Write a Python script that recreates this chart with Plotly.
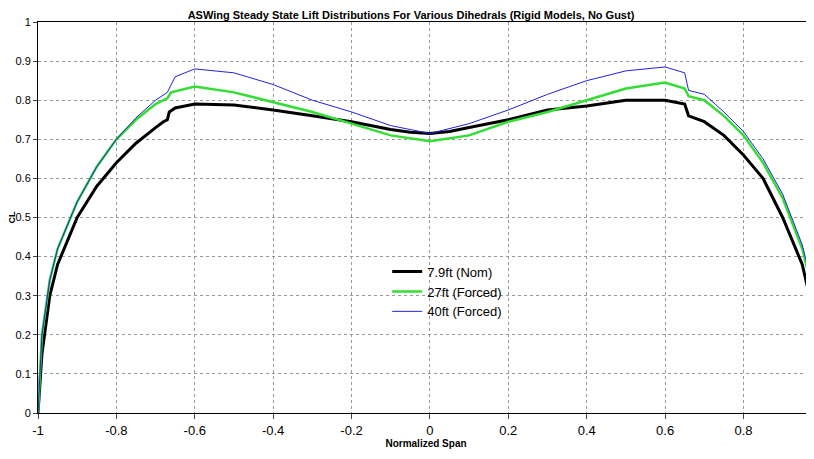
import plotly.graph_objects as go

# Normalized span stations and CL values
x_nom = [-1, -0.99, -0.97, -0.95, -0.9, -0.85, -0.8, -0.75, -0.7, -0.68, -0.67, -0.665, -0.65, -0.6,
         -0.5, -0.4, -0.3, -0.2, -0.1, -0.05, 0, 0.05, 0.1, 0.2, 0.3, 0.4, 0.5, 0.6, 0.65, 0.66,
         0.7, 0.75, 0.8, 0.85, 0.9, 0.95, 0.98]
cl_nom = [0.0, 0.15, 0.3, 0.38, 0.5, 0.58, 0.64, 0.69, 0.73, 0.745, 0.75, 0.77, 0.78, 0.79,
          0.788, 0.775, 0.76, 0.745, 0.725, 0.718, 0.715, 0.72, 0.73, 0.75, 0.775, 0.785, 0.8, 0.8, 0.79, 0.76,
          0.745, 0.71, 0.66, 0.6, 0.5, 0.38, 0.25]

x_27 = [-1, -0.99, -0.97, -0.95, -0.9, -0.85, -0.8, -0.75, -0.7, -0.67, -0.66, -0.6, -0.5, -0.4,
        -0.3, -0.2, -0.1, 0, 0.1, 0.2, 0.3, 0.4, 0.5, 0.6, 0.65, 0.66, 0.7, 0.75, 0.8, 0.85, 0.9, 0.95, 0.98]
cl_27 = [0.0, 0.2, 0.34, 0.42, 0.54, 0.63, 0.7, 0.75, 0.79, 0.805, 0.82, 0.835, 0.82, 0.795,
         0.77, 0.74, 0.71, 0.695, 0.71, 0.745, 0.77, 0.8, 0.83, 0.845, 0.83, 0.81, 0.8, 0.76, 0.71, 0.64, 0.55, 0.42, 0.3]

x_40 = [-1, -0.99, -0.97, -0.95, -0.9, -0.85, -0.8, -0.75, -0.7, -0.67, -0.65, -0.6, -0.5, -0.4,
        -0.3, -0.2, -0.1, 0, 0.1, 0.2, 0.3, 0.4, 0.5, 0.6, 0.65, 0.66, 0.7, 0.75, 0.8, 0.85, 0.9, 0.95, 0.98]
cl_40 = [0.0, 0.2, 0.34, 0.42, 0.54, 0.63, 0.7, 0.755, 0.8, 0.82, 0.86, 0.88, 0.87, 0.84,
         0.8, 0.77, 0.735, 0.715, 0.74, 0.775, 0.815, 0.85, 0.875, 0.885, 0.87, 0.825, 0.815, 0.77, 0.72, 0.65, 0.56, 0.43, 0.31]

fig = go.Figure()
fig.add_trace(go.Scatter(x=x_nom, y=cl_nom, mode="lines", name="7.9ft (Nom)",
                         line=dict(color="black", width=3)))
fig.add_trace(go.Scatter(x=x_27, y=cl_27, mode="lines", name="27ft (Forced)",
                         line=dict(color="#33dd33", width=2.5)))
fig.add_trace(go.Scatter(x=x_40, y=cl_40, mode="lines", name="40ft (Forced)",
                         line=dict(color="#2222dd", width=1)))

# page body has an 8px margin, so the figure is offset by that amount
fig.update_layout(
    width=806, height=443,
    margin=dict(l=30, r=0, t=14, b=38, autoexpand=False),
    paper_bgcolor="white", plot_bgcolor="white",
    font=dict(family="Liberation Sans, Arial", size=13, color="black"),
    title=dict(text="<b>ASWing Steady State Lift Distributions For Various Dihedrals (Rigid Models, No Gust)</b>",
               x=0.5, xanchor="center", y=0.993, yanchor="top", font=dict(size=11)),
    legend=dict(x=0.45, y=0.4, xanchor="left", yanchor="top", bgcolor="rgba(0,0,0,0)",
                font=dict(size=13)),
)
fig.add_annotation(text="<b>CL</b>", xref="paper", yref="paper", x=0, y=0.5, xshift=-27,
                   xanchor="center", showarrow=False, textangle=-90, font=dict(size=9))
fig.update_xaxes(range=[-1, 0.98], tickvals=[-1, -0.8, -0.6, -0.4, -0.2, 0, 0.2, 0.4, 0.6, 0.8],
                 ticktext=["-1", "-0.8", "-0.6", "-0.4", "-0.2", "0", "0.2", "0.4", "0.6", "0.8"],
                 showgrid=True, gridcolor="#999", griddash="dot", zeroline=False, automargin=False,
                 showline=True, linecolor="black", mirror=True, ticks="outside",
                 title=dict(text="<b>Normalized Span</b>", font=dict(size=10), standoff=2))
fig.update_yaxes(range=[0, 1], dtick=0.1, showgrid=True, gridcolor="#999", griddash="dot",
                 zeroline=False, showline=True, linecolor="black", mirror=True, ticks="outside",
                 ticklen=4, automargin=False, tickfont=dict(size=11))

fig.write_html("out.html")
